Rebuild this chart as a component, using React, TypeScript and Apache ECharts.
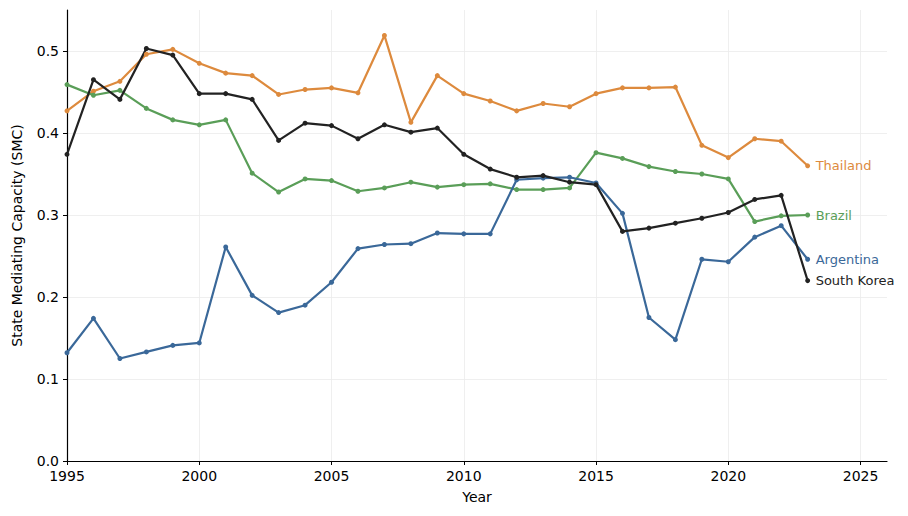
import React, { useEffect, useRef } from "react";
import * as echarts from "echarts";

const years = [1995, 1996, 1997, 1998, 1999, 2000, 2001, 2002, 2003, 2004, 2005, 2006, 2007, 2008, 2009, 2010, 2011, 2012, 2013, 2014, 2015, 2016, 2017, 2018, 2019, 2020, 2021, 2022, 2023];

const thailand = [0.427, 0.451, 0.463, 0.496, 0.502, 0.485, 0.473, 0.470, 0.447, 0.453, 0.455, 0.449, 0.519, 0.413, 0.470, 0.448, 0.439, 0.427, 0.436, 0.432, 0.448, 0.455, 0.455, 0.456, 0.385, 0.370, 0.393, 0.390, 0.360];
const brazil = [0.459, 0.446, 0.452, 0.430, 0.416, 0.410, 0.416, 0.351, 0.328, 0.344, 0.342, 0.329, 0.333, 0.340, 0.334, 0.337, 0.338, 0.331, 0.331, 0.333, 0.376, 0.369, 0.359, 0.353, 0.350, 0.344, 0.292, 0.299, 0.300];
const argentina = [0.132, 0.174, 0.125, 0.133, 0.141, 0.144, 0.261, 0.202, 0.181, 0.190, 0.218, 0.259, 0.264, 0.265, 0.278, 0.277, 0.277, 0.343, 0.345, 0.346, 0.339, 0.302, 0.175, 0.148, 0.246, 0.243, 0.273, 0.287, 0.246];
const southKorea = [0.374, 0.465, 0.441, 0.503, 0.495, 0.448, 0.448, 0.441, 0.391, 0.412, 0.409, 0.393, 0.410, 0.401, 0.406, 0.374, 0.356, 0.346, 0.348, 0.340, 0.337, 0.280, 0.284, 0.290, 0.296, 0.303, 0.319, 0.324, 0.220];

const xTicks = [1995, 2000, 2005, 2010, 2015, 2020, 2025];
const yTicks = [0, 0.1, 0.2, 0.3, 0.4, 0.5];

const seriesDefs = [
  { name: "Thailand", data: thailand, color: "#dd8a3d" },
  { name: "Brazil", data: brazil, color: "#5a9e58" },
  { name: "Argentina", data: argentina, color: "#3a6899" },
  { name: "South Korea", data: southKorea, color: "#222222" },
];

const FONT = "DejaVu Sans";

export default function App() {
  const ref = useRef<HTMLDivElement>(null);
  useEffect(() => {
    document.body.style.margin = "0";
    if (!ref.current) return;
    const chart = echarts.init(ref.current, null, { renderer: "svg" });
    chart.setOption({
      animation: false,
      backgroundColor: "#ffffff",
      textStyle: { fontFamily: FONT },
      grid: { left: 67, right: 21, top: 10, bottom: 55, containLabel: false },
      xAxis: {
        type: "value",
        min: 1995,
        max: 2026,
        interval: 5,
        name: "Year",
        nameLocation: "middle",
        nameGap: 29,
        nameTextStyle: { fontFamily: FONT, fontSize: 14, color: "#000" },
        axisLine: { show: true, onZero: false, lineStyle: { color: "#000", width: 1.2 } },
        axisTick: { show: true, length: 4, lineStyle: { color: "#000" }, customValues: xTicks },
        axisLabel: {
          fontFamily: FONT,
          fontSize: 14,
          color: "#000",
          margin: 8,
          customValues: xTicks,
          formatter: (v: number) => String(v),
        },
        splitLine: { show: true, lineStyle: { color: "#ebebeb", width: 0.8 } },
      },
      yAxis: {
        type: "value",
        min: 0,
        max: 0.55,
        interval: 0.1,
        name: "State Mediating Capacity (SMC)",
        nameLocation: "middle",
        nameGap: 43,
        nameTextStyle: { fontFamily: FONT, fontSize: 14, color: "#000" },
        axisLine: { show: true, lineStyle: { color: "#000", width: 1.2 } },
        axisTick: { show: true, length: 4, lineStyle: { color: "#000" }, customValues: yTicks },
        axisLabel: {
          fontFamily: FONT,
          fontSize: 14,
          color: "#000",
          margin: 8,
          customValues: yTicks,
          formatter: (v: number) => v.toFixed(1),
        },
        splitLine: { show: true, lineStyle: { color: "#ebebeb", width: 0.8 } },
      },
      series: seriesDefs.map((s) => ({
        type: "line",
        name: s.name,
        data: years.map((y, i) => [y, s.data[i]]),
        color: s.color,
        symbol: "circle",
        symbolSize: 5,
        showSymbol: true,
        lineStyle: { width: 2.2, color: s.color },
        itemStyle: { color: s.color },
        endLabel: {
          show: true,
          formatter: s.name,
          color: s.color,
          fontFamily: FONT,
          fontSize: 13,
          distance: 8,
        },
      })),
    });
    return () => chart.dispose();
  }, []);
  return <div ref={ref} style={{ width: 908, height: 516 }} />;
}
